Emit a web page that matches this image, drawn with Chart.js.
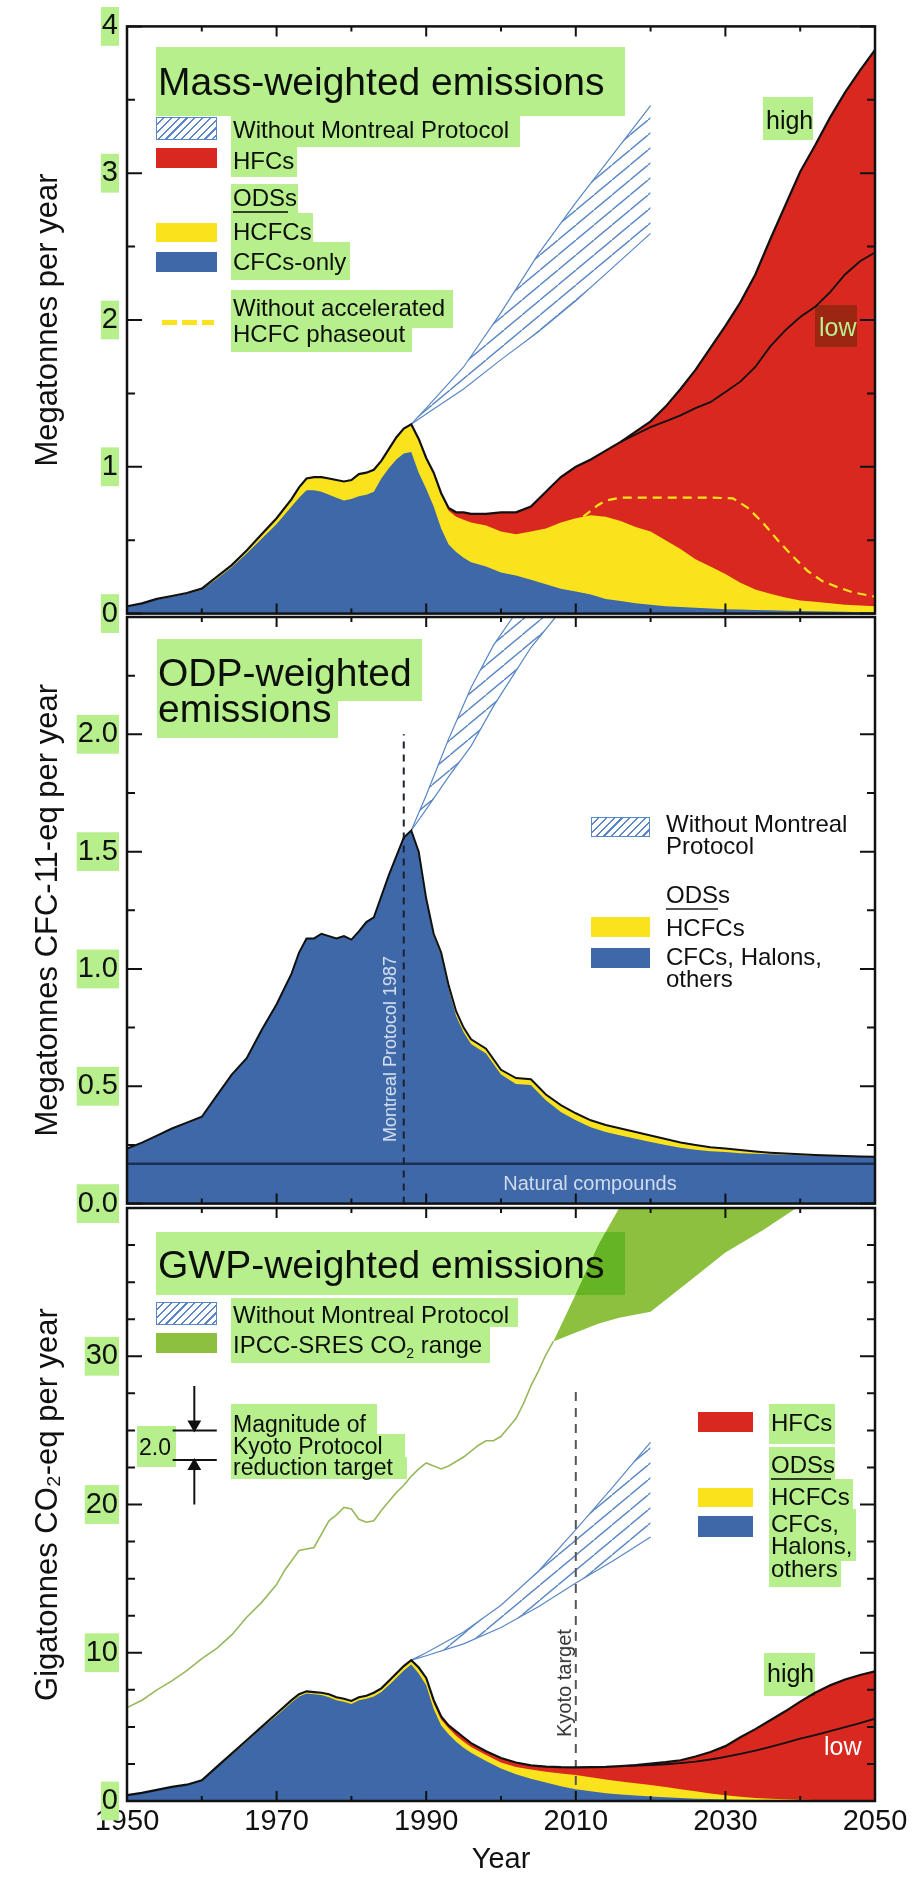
<!DOCTYPE html>
<html lang="en">
<head>
<meta charset="utf-8" />
<title>Mass-, ODP- and GWP-weighted emissions</title>
<style>
  body { margin: 0; background: #fff; font-family: 'Liberation Sans', Arial, Helvetica, sans-serif; }
  #wrap { position: relative; width: 916px; height: 1885px; overflow: hidden; }
  canvas { position: absolute; left: 0; }
  .t { position: absolute; white-space: nowrap; color: #111; }
  .sw { position: absolute; }
  .hatch { position: absolute; box-sizing: border-box; border: 1.5px solid #5a87c5;
    background: repeating-linear-gradient(135deg, #fff 0 4px, #5a87c5 4px 5.5px); }
  .hl { position: absolute; background: #b7ef8c; mix-blend-mode: multiply; }
</style>
</head>
<body>
<div id="wrap">
  <canvas id="c1" width="916" height="640" style="top:0px"></canvas>
  <canvas id="c2" width="916" height="640" style="top:590px"></canvas>
  <canvas id="c3" width="916" height="705" style="top:1180px"></canvas>
</div>

<script src="https://cdn.jsdelivr.net/npm/chart.js@4"></script>
<script>
// ---- data ----
const years = [1950,1952,1954,1956,1958,1960,1962,1964,1966,1968,1970,1972,
  1973,1974,1975,1976,1977,1978,1979,1980,1981,1982,1983,1984,1985,1986,1987,1988,1989,1990,1991,1992,1993,1994,1995,1996,
  1998,2000,2002,2004,2006,2008,2010,2012,2014,2016,2018,2020,2022,2024,2026,2028,2030,2032,2034,2036,2038,2040,2042,2044,2046,2048,2050];

// mass-weighted, Mt/yr (cumulative tops)
const massTotal = [0.05,0.07,0.10,0.12,0.14,0.17,0.25,0.33,0.43,0.54,0.65,0.78,
  0.86,0.92,0.93,0.93,0.92,0.91,0.90,0.91,0.95,0.96,0.98,1.04,1.12,1.20,1.26,1.29,1.19,1.06,0.96,0.82,0.72,0.69,0.69,0.68,
  0.68,0.69,0.69,0.73,0.83,0.93,1.00,1.05,1.11,1.17,1.24,1.31,1.41,1.53,1.66,1.81,1.96,2.12,2.31,2.55,2.78,3.01,3.19,3.38,3.55,3.70,3.84];
const massOds = [0.05,0.07,0.10,0.12,0.14,0.17,0.25,0.33,0.43,0.54,0.65,0.78,
  0.86,0.92,0.93,0.93,0.92,0.91,0.90,0.91,0.95,0.96,0.98,1.04,1.12,1.20,1.26,1.29,1.19,1.06,0.96,0.81,0.70,0.66,0.64,0.62,
  0.60,0.56,0.54,0.56,0.58,0.62,0.65,0.67,0.66,0.63,0.59,0.56,0.50,0.44,0.37,0.32,0.27,0.21,0.165,0.135,0.11,0.09,0.08,0.07,0.06,0.055,0.05];
const massCfc = [0.05,0.07,0.095,0.115,0.135,0.16,0.235,0.315,0.41,0.51,0.61,0.73,
  0.79,0.84,0.84,0.83,0.81,0.79,0.77,0.78,0.80,0.81,0.83,0.92,0.99,1.05,1.09,1.10,0.96,0.85,0.73,0.58,0.47,0.42,0.38,0.35,
  0.32,0.28,0.26,0.23,0.20,0.17,0.15,0.13,0.10,0.085,0.07,0.06,0.05,0.045,0.04,0.035,0.03,0.028,0.025,0.022,0.02,0.018,0.016,0.014,0.012,0.01,0.01];

const futureYears = [2016,2018,2020,2022,2024,2026,2028,2030,2032,2034,2036,2038,2040,2042,2044,2046,2048,2050];
const massLow = [1.17,1.22,1.27,1.31,1.35,1.40,1.44,1.51,1.58,1.68,1.82,1.93,2.02,2.09,2.19,2.31,2.40,2.46];

const noAccelYears = [2011,2012,2013,2014,2016,2018,2020,2024,2028,2031,2033,2035,2037,2039,2041,2043,2045,2047,2050];
const massNoAccel = [0.66,0.70,0.74,0.77,0.79,0.79,0.79,0.79,0.79,0.785,0.72,0.62,0.50,0.39,0.29,0.22,0.18,0.145,0.115];

const massNoMpYears = [1988,1990,1995,2000,2005,2010,2015,2020];
const massNoMpHigh = [1.29,1.40,1.68,2.05,2.45,2.80,3.13,3.46];
const massNoMpLow = [1.29,1.36,1.53,1.73,1.92,2.13,2.36,2.59];

// ODP-weighted, Mt CFC-11-eq/yr
const odpTotal = [0.235,0.26,0.29,0.32,0.345,0.37,0.46,0.55,0.62,0.74,0.85,0.98,
  1.07,1.13,1.13,1.15,1.14,1.13,1.14,1.125,1.16,1.20,1.22,1.31,1.40,1.48,1.56,1.59,1.50,1.30,1.15,1.07,0.93,0.82,0.75,0.70,
  0.66,0.57,0.535,0.53,0.465,0.42,0.385,0.355,0.335,0.32,0.305,0.29,0.275,0.26,0.25,0.24,0.235,0.228,0.222,0.217,0.213,0.21,0.207,0.205,0.203,0.201,0.20];
const odpCfc = [0.235,0.26,0.29,0.32,0.345,0.37,0.46,0.55,0.62,0.74,0.85,0.98,
  1.07,1.13,1.13,1.15,1.14,1.13,1.14,1.125,1.16,1.20,1.22,1.31,1.40,1.48,1.56,1.59,1.495,1.295,1.14,1.06,0.915,0.80,0.73,0.68,
  0.64,0.55,0.51,0.505,0.44,0.39,0.355,0.325,0.305,0.29,0.276,0.262,0.25,0.238,0.23,0.223,0.22,0.215,0.212,0.21,0.208,0.206,0.204,0.203,0.201,0.2,0.199];
const naturalYears = [1950, 2050];
const naturalOdp = [0.17, 0.17];
const odpNoMpYears = [1988,1990,1993,1996,1999,2001.6,2004,2007.3];
const odpNoMpHigh = [1.59,1.74,1.98,2.2,2.38,2.5,2.5,2.5];
const odpNoMpLow = [1.59,1.68,1.82,1.95,2.12,2.25,2.37,2.5];
const montrealX = [1987, 1987];
const montrealY = [0, 2.0];

// GWP-weighted, Gt CO2-eq/yr
const gwpTotal = [0.4,0.55,0.75,0.95,1.1,1.4,2.3,3.2,4.1,5.0,5.9,6.8,
  7.2,7.4,7.35,7.3,7.2,7.0,6.9,6.75,7.0,7.1,7.3,7.6,8.1,8.6,9.1,9.5,9.0,8.3,6.8,5.7,5.1,4.7,4.3,3.9,
  3.35,2.9,2.6,2.4,2.32,2.28,2.27,2.28,2.3,2.35,2.42,2.52,2.62,2.75,3.0,3.3,3.7,4.3,4.85,5.45,6.05,6.7,7.3,7.8,8.2,8.5,8.75];
const gwpOds = [0.4,0.55,0.75,0.95,1.1,1.4,2.3,3.2,4.1,5.0,5.9,6.8,
  7.2,7.4,7.35,7.3,7.2,7.0,6.9,6.75,7.0,7.1,7.3,7.6,8.1,8.6,9.1,9.5,9.0,8.3,6.6,5.5,4.9,4.4,4.0,3.65,
  3.1,2.6,2.3,2.12,1.98,1.86,1.75,1.6,1.45,1.32,1.2,1.08,0.94,0.8,0.65,0.5,0.38,0.28,0.2,0.15,0.11,0.08,0.06,0.05,0.04,0.03,0.03];
const gwpCfc = [0.4,0.55,0.75,0.95,1.1,1.4,2.25,3.1,4.0,4.9,5.75,6.65,
  7.05,7.25,7.2,7.15,7.0,6.8,6.7,6.55,6.8,6.9,7.05,7.35,7.8,8.3,8.8,9.2,8.6,7.8,6.2,5.1,4.5,4.0,3.6,3.25,
  2.7,2.2,1.8,1.5,1.25,1.0,0.8,0.65,0.53,0.44,0.37,0.31,0.25,0.2,0.16,0.13,0.1,0.08,0.07,0.06,0.05,0.04,0.035,0.03,0.025,0.02,0.02];
const gwpLow = [2.35,2.38,2.42,2.48,2.56,2.66,2.8,2.98,3.18,3.4,3.65,3.92,4.2,4.45,4.72,4.98,5.25,5.55];
const gwpNoMpYears = [1988,1990,1995,2000,2005,2010,2015,2020];
const gwpNoMpHigh = [9.5,10.0,11.4,13.2,15.5,18.3,21.2,24.2];
const gwpNoMpLow = [9.5,9.8,10.6,11.7,13.1,14.7,16.2,17.8];

const co2Years = [1950,1952,1954,1956,1958,1960,1962,1964,1966,1968,1970,
  1971,1972,1973,1974,1975,1976,1977,1978,1979,1980,1981,1982,1983,1984,1985,1986,1987,1988,1989,1990,
  1991,1992,1993,1994,1995,1996,1997,1998,1999,2000,2001,2002,2003,2004,2005,2006,2007];
const co2 = [6.3,6.8,7.5,8.1,8.8,9.6,10.3,11.2,12.4,13.4,14.6,
  15.5,16.2,16.9,17.0,17.1,18.0,18.9,19.3,19.8,19.7,19.0,18.8,18.9,19.6,20.2,20.8,21.3,21.9,22.4,22.8,
  22.6,22.4,22.6,22.9,23.2,23.6,24.0,24.3,24.3,24.6,25.2,25.8,26.8,28.0,29.0,30.1,31.0];
const ipccYears = [2007,2010,2013,2015.8,2020,2025,2030,2035,2039.5];
const ipccHigh = [31.0,34.2,37.5,40,40,40,40,40,40];
const ipccLow = [31.0,31.6,32.2,32.6,33.0,35.0,37.0,38.5,40];

const kyotoX = [2010, 2010];
const kyotoY = [0, 28];
const kyotoBarX = [1956.1, 1962];
const kyotoBarHigh = [25, 25];
const kyotoBarLow = [23, 23];
const kyotoArrowX = [1959, 1959];
const kyotoArrowDown = [28, 25.4];
const kyotoArrowUp = [20, 22.6];

// ---- styling ----
const FONT = "'Liberation Sans', Arial, Helvetica, sans-serif";
const INK = '#111';
const BLUE = '#3e68a8', YELLOW = '#fae31c', RED = '#d8281f', IPCC = '#8dc03f', HATCH = '#5a87c5', CO2LINE = '#98b85c';
const HL = '#b7ef8c';
Chart.defaults.font.family = FONT;

const pts = (xs, ys) => xs.map((x, i) => ({ x, y: ys[i] }));

function hatchPattern() {
  const c = document.createElement('canvas');
  c.width = 18; c.height = 15;
  const g = c.getContext('2d');
  g.strokeStyle = HATCH;
  g.lineWidth = 1.4;
  g.beginPath();
  g.moveTo(0, 15); g.lineTo(18, 0);
  g.moveTo(-18, 15); g.lineTo(0, 0);
  g.moveTo(18, 30); g.lineTo(36, 15);
  g.stroke();
  return g.createPattern(c, 'repeat');
}
const hatch = hatchPattern();

function area(xs, ys, color) {
  return { data: pts(xs, ys), backgroundColor: color, borderWidth: 0, fill: 'origin', pointRadius: 0 };
}
function line(xs, ys, color, width, dash) {
  return { data: pts(xs, ys), borderColor: color, borderWidth: width, borderDash: dash || [], fill: false, pointRadius: 0 };
}
function hatchHigh(xs, ys) {
  return { data: pts(xs, ys), borderColor: HATCH, borderWidth: 1.2, fill: '+1', backgroundColor: hatch, pointRadius: 0 };
}

// inward ticks + frame, like the original figure
const frameTicks = {
  id: 'frameTicks',
  afterDatasetsDraw(chart, args, opts) {
    const { ctx, chartArea: a, scales: { x, y } } = chart;
    ctx.save();
    ctx.strokeStyle = INK;
    ctx.lineWidth = 2;
    ctx.beginPath();
    for (let v = 1950; v <= 2050; v += 10) {
      const px = x.getPixelForValue(v);
      const len = (v - 1950) % 20 === 0 ? 10 : 5;
      ctx.moveTo(px, a.top); ctx.lineTo(px, a.top + len);
      ctx.moveTo(px, a.bottom); ctx.lineTo(px, a.bottom - len);
    }
    const n = Math.round((y.max - y.min) / opts.minor);
    for (let i = 0; i <= n; i++) {
      const v = y.min + i * opts.minor;
      const py = y.getPixelForValue(v);
      const r = v / opts.major;
      const len = Math.abs(r - Math.round(r)) < 1e-6 ? 15 : 8;
      ctx.moveTo(a.left, py); ctx.lineTo(a.left + len, py);
      ctx.moveTo(a.right, py); ctx.lineTo(a.right - len, py);
    }
    ctx.stroke();
    ctx.lineWidth = 2.5;
    ctx.strokeRect(a.left, a.top, a.right - a.left, a.bottom - a.top);
    ctx.restore();
  }
};

function yAxis(min, max, step, title, fmt) {
  return {
    min, max,
    grid: { display: false, drawTicks: false },
    border: { display: false },
    ticks: {
      stepSize: step, padding: 9, color: INK, font: { size: 29 },
      showLabelBackdrop: true, backdropColor: HL,
      backdropPadding: { top: 2, bottom: 2, left: 1, right: 1 },
      callback: fmt
    },
    title: { display: true, text: title, color: INK, font: { size: 31 }, padding: { top: 30, bottom: 0 } },
    afterFit(s) { s.width = 127; }
  };
}

function xAxis(show) {
  return {
    type: 'linear', min: 1950, max: 2050, display: show,
    grid: { display: false, drawTicks: false },
    border: { display: false },
    ticks: { stepSize: 20, padding: 4, color: INK, font: { size: 29 }, maxRotation: 0, autoSkip: false, callback: v => String(v) },
    title: { display: true, text: 'Year', color: INK, font: { size: 29 }, padding: { top: 0, bottom: 8 } },
    afterFit(s) { s.height = show ? 84 : 0; }
  };
}

function makeChart(id, datasets, x, y, ticks, padding) {
  return new Chart(document.getElementById(id), {
    type: 'line',
    data: { datasets },
    options: {
      responsive: false, animation: false, events: [],
      layout: { padding },
      plugins: { legend: { display: false }, tooltip: { enabled: false }, frameTicks: ticks },
      scales: { x, y }
    },
    plugins: [frameTicks]
  });
}

// ---- panel 1: mass-weighted ----
makeChart('c1', [
  line(futureYears, massLow, INK, 1.8),
  line(years, massTotal, INK, 2.2),
  line(noAccelYears, massNoAccel, YELLOW, 2.2, [9, 6]),
  hatchHigh(massNoMpYears, massNoMpHigh),
  line(massNoMpYears, massNoMpLow, HATCH, 1.2),
  area(years, massCfc, BLUE),
  area(years, massOds, YELLOW),
  area(years, massTotal, RED)
], xAxis(false), yAxis(0, 4, 1, 'Megatonnes per year', v => v),
  { minor: 0.5, major: 1 }, { left: 0, right: 41, top: 24, bottom: 23 });

// ---- panel 2: ODP-weighted ----
makeChart('c2', [
  line(years, odpTotal, INK, 2),
  line(montrealX, montrealY, '#1a2130', 2, [7, 6]),
  line(naturalYears, naturalOdp, '#1d2f52', 2.5),
  hatchHigh(odpNoMpYears, odpNoMpHigh),
  line(odpNoMpYears, odpNoMpLow, HATCH, 1.2),
  area(years, odpCfc, BLUE),
  area(years, odpTotal, YELLOW)
], xAxis(false), yAxis(0, 2.5, 0.5, 'Megatonnes CFC-11-eq per year', v => (v > 2.4 ? null : v.toFixed(1))),
  { minor: 0.25, major: 0.5 }, { left: 0, right: 41, top: 27, bottom: 22 });

// ---- panel 3: GWP-weighted ----
const arrowDown = line(kyotoArrowX, kyotoArrowDown, INK, 2);
arrowDown.pointRadius = [0, 6]; arrowDown.pointStyle = 'triangle'; arrowDown.pointRotation = 180;
arrowDown.pointBackgroundColor = INK; arrowDown.pointBorderColor = INK;
const arrowUp = line(kyotoArrowX, kyotoArrowUp, INK, 2);
arrowUp.pointRadius = [0, 6]; arrowUp.pointStyle = 'triangle'; arrowUp.pointRotation = 0;
arrowUp.pointBackgroundColor = INK; arrowUp.pointBorderColor = INK;

makeChart('c3', [
  line(years, gwpTotal, INK, 2.2),
  line(futureYears, gwpLow, INK, 1.8),
  line(kyotoX, kyotoY, '#555', 2, [9, 7]),
  line(kyotoBarX, kyotoBarHigh, INK, 2),
  line(kyotoBarX, kyotoBarLow, INK, 2),
  arrowDown,
  arrowUp,
  hatchHigh(gwpNoMpYears, gwpNoMpHigh),
  line(gwpNoMpYears, gwpNoMpLow, HATCH, 1.2),
  line(co2Years, co2, CO2LINE, 1.6),
  { data: pts(ipccYears, ipccHigh), borderWidth: 0, fill: '+1', backgroundColor: IPCC, pointRadius: 0 },
  { data: pts(ipccYears, ipccLow), borderWidth: 0, fill: false, pointRadius: 0 },
  area(years, gwpCfc, BLUE),
  area(years, gwpOds, YELLOW),
  area(years, gwpTotal, RED)
], xAxis(true), yAxis(0, 40, 10, 'Gigatonnes CO\u2082-eq per year', v => (v >= 40 ? null : v)),
  { minor: 2.5, major: 10 }, { left: 0, right: 41, top: 28, bottom: 0 });

// ---- text, legends and highlight boxes ----
const wrap = document.getElementById('wrap');
function add(cls, css, html) {
  const d = document.createElement('div');
  d.className = cls;
  Object.assign(d.style, css);
  if (html) d.innerHTML = html;
  wrap.appendChild(d);
  return d;
}
function text(html, x, cy, size, color) {
  add('t', { left: x + 'px', top: (cy - size / 2) + 'px', fontSize: size + 'px', lineHeight: size + 'px', color: color || INK }, html);
}
function ctext(html, cx, cy, size, color) {
  add('t', { left: cx + 'px', top: (cy - size / 2) + 'px', fontSize: size + 'px', lineHeight: size + 'px', color, transform: 'translateX(-50%)' }, html);
}
function vtext(html, cx, cy, size, color) {
  add('t', { left: cx + 'px', top: cy + 'px', fontSize: size + 'px', lineHeight: size + 'px', color, transform: 'translate(-50%,-50%) rotate(-90deg)' }, html);
}
function box(cls, x1, y1, x2, y2, bg) {
  const css = { left: x1 + 'px', top: y1 + 'px', width: (x2 - x1) + 'px', height: (y2 - y1) + 'px' };
  if (bg) css.background = bg;
  add(cls, css);
}
const highlights = [];
const hl = (x1, y1, x2, y2) => highlights.push([x1, y1, x2, y2]);

// panel 1
text('Mass-weighted emissions', 158, 81, 39); hl(156, 47, 625, 116);
box('hatch', 156, 117, 217, 140);
box('sw', 156, 148, 217, 168, RED);
box('sw', 156, 223, 217, 242, YELLOW);
box('sw', 156, 252, 217, 272, BLUE);
box('sw', 162, 320, 177, 325, YELLOW);
box('sw', 182, 320, 197, 325, YELLOW);
box('sw', 202, 320, 214, 325, YELLOW);
text('Without Montreal Protocol', 233, 130, 24); hl(231, 116, 520, 147);
text('HFCs', 233, 161, 24); hl(231, 147, 297, 177);
text('ODSs', 233, 198, 24); box('sw', 233, 211, 288, 213, '#444'); hl(231, 184, 298, 213);
text('HCFCs', 233, 232, 24); hl(231, 213, 313, 242);
text('CFCs-only', 233, 262, 24); hl(231, 242, 350, 280);
text('Without accelerated', 233, 308, 24); hl(231, 290, 453, 328);
text('HCFC phaseout', 233, 334, 24); hl(231, 328, 412, 352);
text('high', 766, 120, 25); hl(763, 97, 813, 140);
text('low', 819, 327, 25, '#fff'); hl(815, 305, 857, 347);

// panel 2
text('ODP-weighted', 158, 672, 39); hl(157, 639, 422, 701);
text('emissions', 158, 708, 39); hl(157, 701, 338, 738);
box('hatch', 591, 817, 650, 837);
box('sw', 591, 917, 650, 937, YELLOW);
box('sw', 591, 948, 650, 968, BLUE);
text('Without Montreal', 666, 824, 24);
text('Protocol', 666, 846, 24);
text('ODSs', 666, 895, 24); box('sw', 666, 908, 718, 910, '#555');
text('HCFCs', 666, 928, 24);
text('CFCs, Halons,', 666, 957, 24);
text('others', 666, 979, 24);
vtext('Montreal Protocol 1987', 390, 1049, 18, '#d5e0f0');
ctext('Natural compounds', 590, 1183, 20, '#d0dcee');

// panel 3
text('GWP-weighted emissions', 158, 1264, 39); hl(156, 1232, 625, 1295);
box('hatch', 156, 1302, 217, 1325);
box('sw', 156, 1333, 217, 1353, IPCC);
text('Without Montreal Protocol', 233, 1315, 24); hl(231, 1298, 518, 1327);
text('IPCC-SRES CO<span style="font-size:14px;vertical-align:-5px">2</span> range', 233, 1345, 24); hl(231, 1327, 490, 1363);
text('2.0', 139, 1447, 23); hl(137, 1426, 176, 1467);
text('Magnitude of', 233, 1424, 23); hl(231, 1404, 377, 1434);
text('Kyoto Protocol', 233, 1446, 23); hl(231, 1434, 405, 1457);
text('reduction target', 233, 1467, 23); hl(231, 1457, 407, 1479);
box('sw', 698, 1412, 753, 1432, RED);
box('sw', 698, 1488, 753, 1507, YELLOW);
box('sw', 698, 1516, 753, 1537, BLUE);
text('HFCs', 771, 1423, 24); hl(769, 1404, 835, 1444);
text('ODSs', 771, 1465, 24); box('sw', 771, 1478, 831, 1480, '#444'); hl(769, 1447, 835, 1479);
text('HCFCs', 771, 1497, 24); hl(769, 1479, 853, 1509);
text('CFCs,', 771, 1524, 24);
text('Halons,', 771, 1546, 24); hl(769, 1509, 856, 1561);
text('others', 771, 1569, 24); hl(769, 1561, 841, 1587);
vtext('Kyoto target', 564, 1683, 20, '#333');
text('high', 767, 1673, 25); hl(764, 1653, 815, 1696);
text('low', 824, 1746, 25, '#fff');

// highlight layer goes last so it multiplies over the drawing
highlights.forEach(([x1, y1, x2, y2]) => box('hl', x1, y1, x2, y2));
</script>
</body>
</html>
